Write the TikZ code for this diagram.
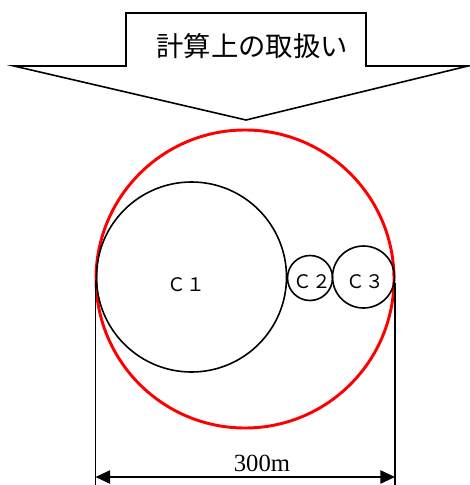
\documentclass[tikz,border=0pt]{standalone}
\usepackage{fontspec}
\setmainfont{Liberation Serif}
\newfontfamily\cjk{Noto Sans CJK JP}
\usetikzlibrary{arrows.meta}
\begin{document}
\begin{tikzpicture}[x=0.75pt,y=-0.75pt,
  blk/.style={draw=black,line width=1.2pt},
  ring/.style={circle,draw=black,line width=1.2pt,inner sep=0pt,outer sep=0pt},
  redring/.style={circle,draw=red,line width=2.2pt,inner sep=0pt,outer sep=0pt},
  lab/.style={font=\cjk\fontsize{14}{14}\selectfont,inner sep=0pt},
  dimarrow/.style={blk,{Triangle[length=11pt,width=10pt]}-{Triangle[length=11pt,width=10pt]}},
]
\useasboundingbox (0,0) rectangle (470,485);
% downward block arrow
\draw[blk,fill=white,line join=miter] (126,13) -- (366,13) -- (366,66) -- (468,66) -- (246,120) -- (14,66) -- (126,66) -- cycle;
\node[font=\cjk\fontsize{20.5}{20.5}\selectfont,inner sep=0pt] (title) at (252,46) {計算上の取扱い};
% circles
\node[redring,minimum size=223.5pt] (big) at (245,279) {};
\node[ring,minimum size=142.5pt] (c1) at (191.5,277) {};
\node[ring,minimum size=33.75pt] (c2) at (310,278) {};
\node[ring,minimum size=46.5pt] (c3) at (363.5,277) {};
\node[lab] (l1) at (186,285) {Ｃ１};
\node[lab] (l2) at (312,282) {Ｃ２};
\node[lab] (l3) at (365,282) {Ｃ３};
% dimension
\coordinate (lt) at (95.5,280);
\coordinate (lb) at (95.5,485);
\coordinate (rt) at (395,283);
\coordinate (rb) at (395,485);
\coordinate (al) at (95.5,477);
\coordinate (ar) at (395,477);
\draw[blk] (lt) -- (lb);
\draw[blk] (rt) -- (rb);
\draw[dimarrow] (al) -- (ar);
\node[font=\fontsize{18.5}{18.5}\selectfont,inner sep=0pt] (dim) at (262,463) {300m};
\end{tikzpicture}
\end{document}
